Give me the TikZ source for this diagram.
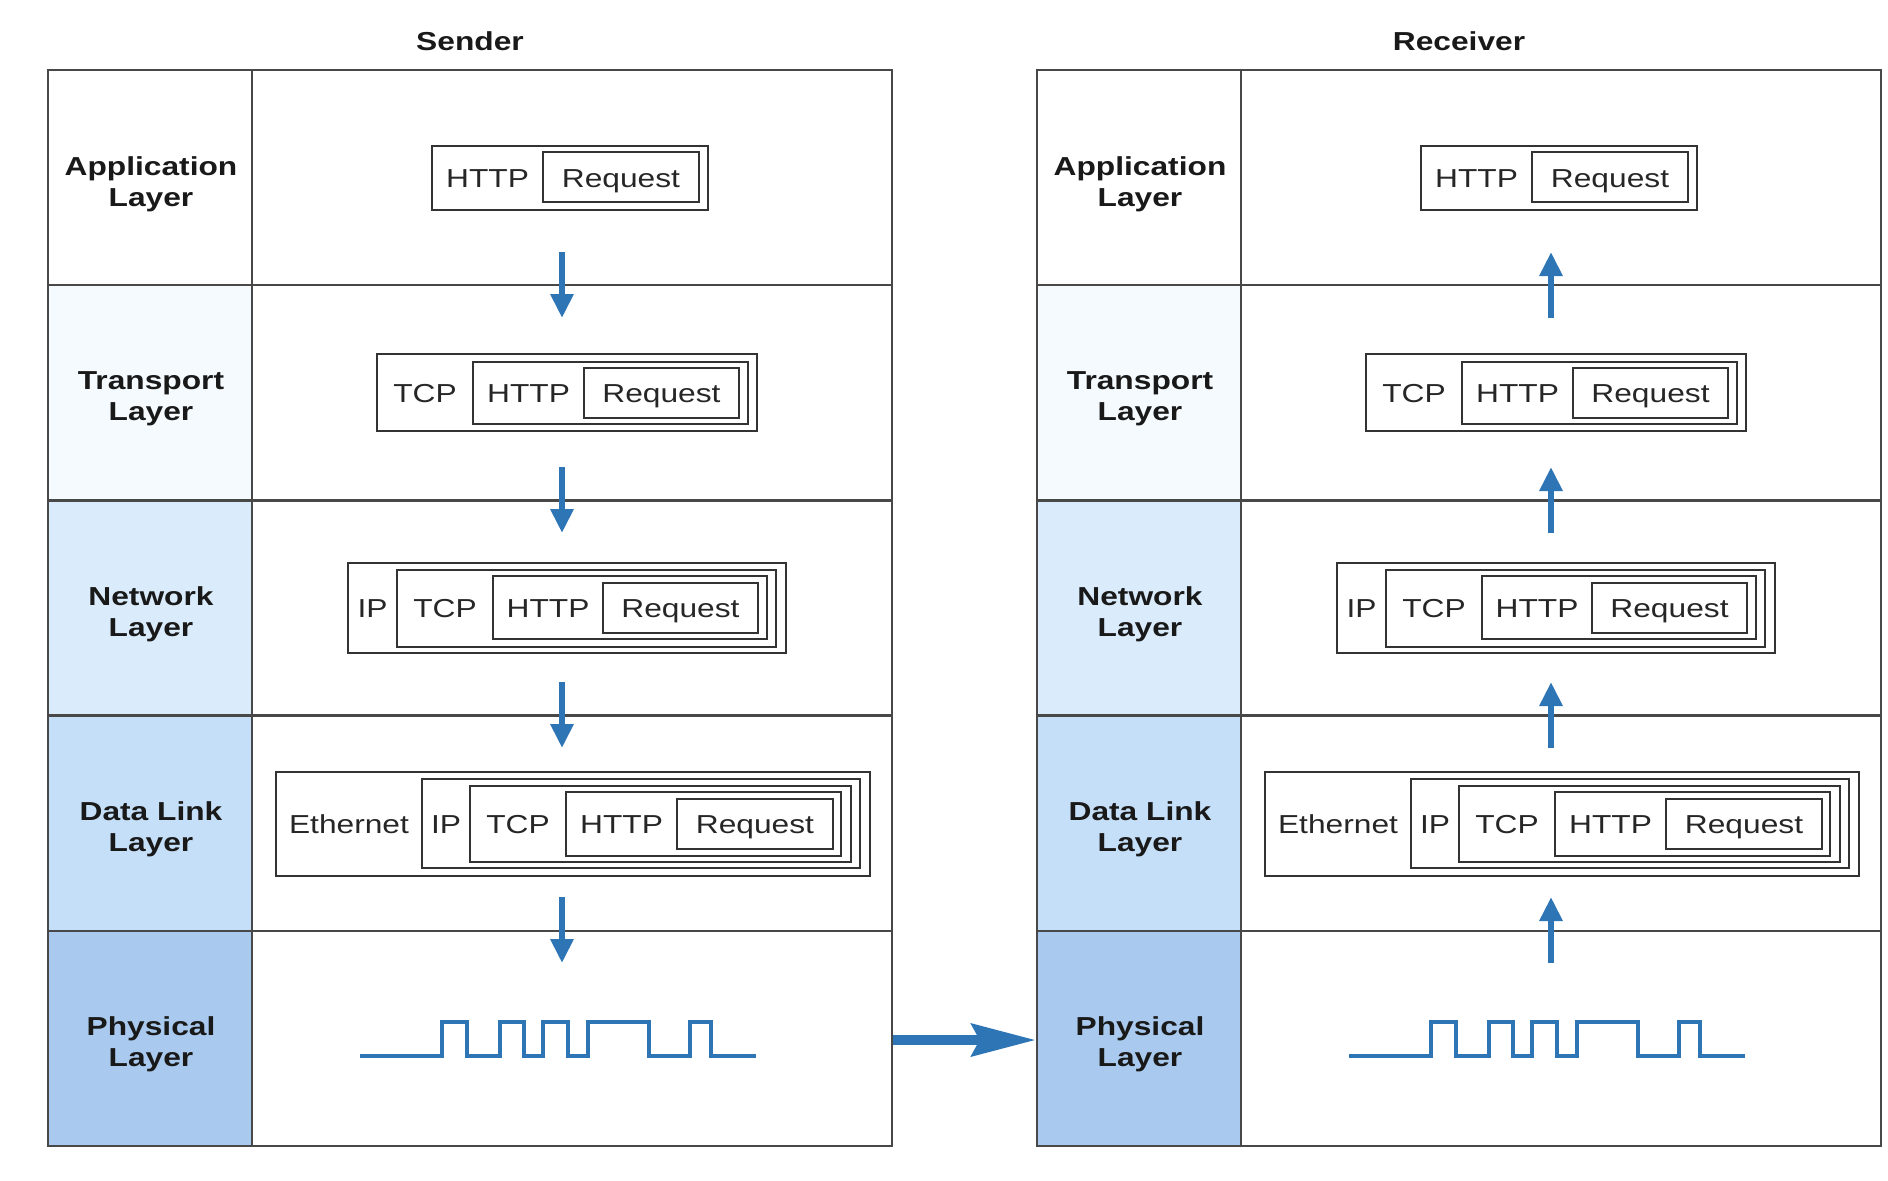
\documentclass[tikz,border=0pt]{standalone}
\usepackage{fontspec}
\setmainfont{Liberation Sans}[FakeStretch=1.22]
\usetikzlibrary{arrows.meta,fit}
\definecolor{gridc}{HTML}{484848}
\definecolor{boxc}{HTML}{333333}
\definecolor{arrc}{HTML}{2E75B6}
\definecolor{lt}{HTML}{F4FAFE}
\definecolor{ln}{HTML}{DAECFB}
\definecolor{ld}{HTML}{C5DFF8}
\definecolor{lp}{HTML}{A9CAEE}
\tikzset{
  cell/.style={draw=gridc, line width=1.2pt, inner sep=0pt},
  labtext/.style={font=\bfseries\fontsize{13}{15.5}\selectfont, align=center, text=black!90},
  titletext/.style={font=\bfseries\fontsize{13}{15.5}\selectfont, inner sep=0pt, text height=9.3pt, text depth=0pt, text=black!90},
  pkt/.style={draw=boxc, line width=0.8pt, inner sep=0pt},
  ptext/.style={font=\fontsize{13}{15.5}\selectfont, inner sep=0pt, text height=9.3pt, text depth=0pt, text=black!85},
  varrow/.style={draw=arrc, line width=3.2pt, -{Triangle[length=12pt,width=11pt]}},
  harrow/.style={draw=arrc, line width=5pt, -{Stealth[length=32pt,width=16pt,inset=4pt]}},
  wave/.style={draw=arrc, line width=1.6pt, line join=miter},
}
\newcommand\pkbox[5]{\node[pkt, fit={(#2,#3)(#4,#5)}] (#1) {};}
\newcommand\pktext[4]{\node[ptext] (#1) at (#2,#3) {#4};}
\newcommand\sidestack[1]{%
  \node[titletext] (title) at (470,41) {#1};
  % label column
  \node[cell, fill=white, fit={(48,70)(252,285.2)}] (lapp) {};
  \node[cell, fill=lt, fit={(48,285.2)(252,500.4)}] (ltra) {};
  \node[cell, fill=ln, fit={(48,500.4)(252,715.6)}] (lnet) {};
  \node[cell, fill=ld, fit={(48,715.6)(252,930.8)}] (ldl) {};
  \node[cell, fill=lp, fit={(48,930.8)(252,1146)}] (lphys) {};
  % content column
  \node[cell, fit={(252,70)(892,285.2)}] (app) {};
  \node[cell, fit={(252,285.2)(892,500.4)}] (tra) {};
  \node[cell, fit={(252,500.4)(892,715.6)}] (net) {};
  \node[cell, fit={(252,715.6)(892,930.8)}] (dl) {};
  \node[cell, fit={(252,930.8)(892,1146)}] (phys) {};
  % label texts
  \node[labtext] (tapp) at (151,184) {Application\\Layer};
  \node[labtext] (ttra) at (151,399) {Transport\\Layer};
  \node[labtext] (tnet) at (151,614) {Network\\Layer};
  \node[labtext] (tdl) at (151,829) {Data Link\\Layer};
  \node[labtext] (tphys) at (151,1044) {Physical\\Layer};
  % application packet
  \pkbox{a-http}{432}{146}{708}{210}
  \pkbox{a-req}{543}{152}{699}{202}
  \pktext{a-thttp}{487.5}{178}{HTTP}
  \pktext{a-treq}{621}{178}{Request}
  % transport packet
  \pkbox{t-tcp}{377}{354}{757}{431}
  \pkbox{t-http}{473}{362}{748}{424}
  \pkbox{t-req}{584}{368}{739}{418}
  \pktext{t-ttcp}{425}{393}{TCP}
  \pktext{t-thttp}{528.5}{393}{HTTP}
  \pktext{t-treq}{661.5}{393}{Request}
  % network packet
  \pkbox{n-ip}{348}{563}{786}{653}
  \pkbox{n-tcp}{397}{570}{776}{647}
  \pkbox{n-http}{493}{576}{767}{639}
  \pkbox{n-req}{603}{583}{758}{633}
  \pktext{n-tip}{372.5}{608}{IP}
  \pktext{n-ttcp}{445}{608}{TCP}
  \pktext{n-thttp}{548}{608}{HTTP}
  \pktext{n-treq}{680.5}{608}{Request}
  % data link frame
  \pkbox{d-eth}{276}{772}{870}{876}
  \pkbox{d-ip}{422}{779}{860}{868}
  \pkbox{d-tcp}{470}{786}{851}{862}
  \pkbox{d-http}{566}{792}{841}{856}
  \pkbox{d-req}{677}{799}{833}{849}
  \pktext{d-teth}{349}{824}{Ethernet}
  \pktext{d-tip}{446}{824}{IP}
  \pktext{d-ttcp}{518}{824}{TCP}
  \pktext{d-thttp}{621.5}{824}{HTTP}
  \pktext{d-treq}{755}{824}{Request}
  % physical signal
  \draw[wave] (360,1056) -- (442,1056) -- (442,1022) -- (467,1022) -- (467,1056)
    -- (500,1056) -- (500,1022) -- (524,1022) -- (524,1056) -- (543,1056)
    -- (543,1022) -- (568,1022) -- (568,1056) -- (588,1056) -- (588,1022)
    -- (649,1022) -- (649,1056) -- (690,1056) -- (690,1022) -- (711,1022)
    -- (711,1056) -- (756,1056);
  % arrow end points
  \coordinate (a1t) at (562,252); \coordinate (a1b) at (562,318);
  \coordinate (a2t) at (562,467); \coordinate (a2b) at (562,533);
  \coordinate (a3t) at (562,682); \coordinate (a3b) at (562,748);
  \coordinate (a4t) at (562,897); \coordinate (a4b) at (562,963);
}
\begin{document}
\begin{tikzpicture}[x=0.5pt, y=-0.5pt]
\useasboundingbox (0,0) rectangle (1888,1180);
\begin{scope}[name prefix=s-]
  \sidestack{Sender}
\end{scope}
\begin{scope}[xshift=494.5pt, name prefix=r-]
  \sidestack{Receiver}
\end{scope}
% sender: downward
\draw[varrow] (s-a1t) -- (s-a1b);
\draw[varrow] (s-a2t) -- (s-a2b);
\draw[varrow] (s-a3t) -- (s-a3b);
\draw[varrow] (s-a4t) -- (s-a4b);
% receiver: upward
\draw[varrow] (r-a1b) -- (r-a1t);
\draw[varrow] (r-a2b) -- (r-a2t);
\draw[varrow] (r-a3b) -- (r-a3t);
\draw[varrow] (r-a4b) -- (r-a4t);
% transmission
\draw[harrow] ([yshift=-0.8pt]s-phys.east) -- ([yshift=-0.8pt]r-lphys.west);
\end{tikzpicture}
\end{document}
